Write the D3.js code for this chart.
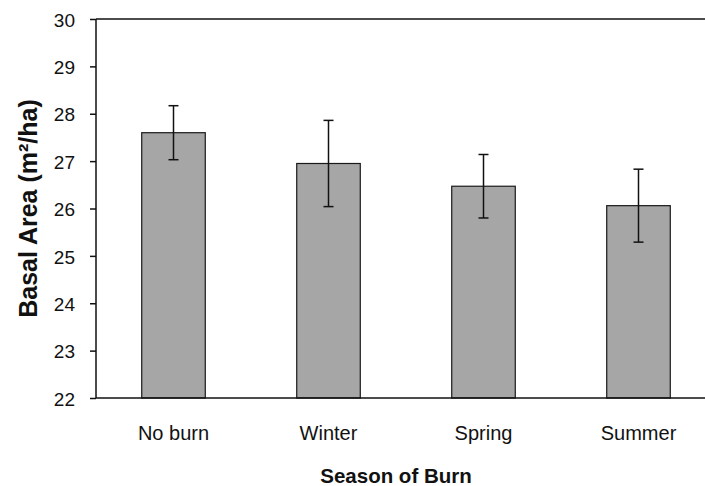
<!DOCTYPE html>
<html>
<head>
<meta charset="utf-8">
<script src="https://cdn.jsdelivr.net/npm/d3@7"></script>
<style>
  body { margin: 0; background: #fff; }
  svg { display: block; font-family: Arial, "Liberation Sans", sans-serif; }
</style>
</head>
<body>
<script>
// chart data
var seasons = ["No burn", "Winter", "Spring", "Summer"];
var basalArea = [27.6, 26.95, 26.47, 26.06];
var stdErr = [0.57, 0.91, 0.67, 0.77];
var yTicks = [22, 23, 24, 25, 26, 27, 28, 29, 30];

window.onload = () => {
  var width = 705, height = 486;
  var margin = {top: 19, left: 96, bottom: 88};
  var plotW = 620; // plot runs past the right edge of the picture

  var svg = d3.select("body").append("svg")
    .attr("width", width)
    .attr("height", height);

  var x = d3.scaleBand()
    .domain(seasons)
    .range([margin.left, margin.left + plotW])
    .paddingInner(0.59)
    .paddingOuter(0.295);

  var y = d3.scaleLinear()
    .domain([22, 30])
    .range([height - margin.bottom, margin.top]);

  var rows = seasons.map(function(s, i) {
    return {season: s, value: basalArea[i], se: stdErr[i]};
  });

  // top border of plot area
  svg.append("line")
    .attr("x1", margin.left).attr("x2", margin.left + plotW)
    .attr("y1", y(30)).attr("y2", y(30))
    .attr("stroke", "#111").attr("stroke-width", 1.5);

  // bars
  svg.selectAll("rect.bar")
    .data(rows)
    .enter().append("rect")
    .attr("class", "bar")
    .attr("x", function(d) { return x(d.season); })
    .attr("width", x.bandwidth())
    .attr("y", function(d) { return y(d.value); })
    .attr("height", function(d) { return y(22) - y(d.value); })
    .attr("fill", "#a6a6a6")
    .attr("stroke", "#1a1a1a")
    .attr("stroke-width", 1.2);

  // error bars
  var eb = svg.selectAll("g.err")
    .data(rows)
    .enter().append("g")
    .attr("class", "err")
    .attr("stroke", "#111")
    .attr("stroke-width", 1.5);
  var cx = function(d) { return x(d.season) + x.bandwidth() / 2; };
  eb.append("line")
    .attr("x1", cx).attr("x2", cx)
    .attr("y1", function(d) { return y(d.value + d.se); })
    .attr("y2", function(d) { return y(d.value - d.se); });
  eb.append("line")
    .attr("x1", function(d) { return cx(d) - 5; })
    .attr("x2", function(d) { return cx(d) + 5; })
    .attr("y1", function(d) { return y(d.value + d.se); })
    .attr("y2", function(d) { return y(d.value + d.se); });
  eb.append("line")
    .attr("x1", function(d) { return cx(d) - 5; })
    .attr("x2", function(d) { return cx(d) + 5; })
    .attr("y1", function(d) { return y(d.value - d.se); })
    .attr("y2", function(d) { return y(d.value - d.se); });

  // y axis
  var yAxis = svg.append("g")
    .attr("transform", "translate(" + margin.left + ",0)")
    .call(d3.axisLeft(y).tickValues(yTicks).tickSize(6).tickPadding(15).tickFormat(d3.format("d")));
  yAxis.selectAll("path, line").attr("stroke", "#111").attr("stroke-width", 1.5);
  yAxis.select(".domain").attr("d", "M0," + y(30) + "V" + y(22));
  yAxis.selectAll("text")
    .attr("font-size", 19)
    .attr("dy", "0.38em")
    .attr("font-family", "Arial, 'Liberation Sans', sans-serif")
    .attr("fill", "#111");

  // x axis
  var xAxis = svg.append("g")
    .attr("transform", "translate(0," + y(22) + ")")
    .call(d3.axisBottom(x).tickSize(0).tickPadding(28));
  xAxis.select(".domain").attr("stroke", "#111").attr("stroke-width", 1.5)
    .attr("d", "M" + margin.left + ",0H" + (margin.left + plotW));
  xAxis.selectAll("text")
    .attr("font-size", 20)
    .attr("font-family", "Arial, 'Liberation Sans', sans-serif")
    .attr("fill", "#111");

  // axis titles
  svg.append("text")
    .attr("x", 396).attr("y", 483)
    .attr("text-anchor", "middle")
    .attr("font-size", 20.5)
    .attr("font-weight", "bold")
    .attr("fill", "#111")
    .text("Season of Burn");

  svg.append("text")
    .attr("transform", "translate(37," + ((y(22) + y(30)) / 2) + ") rotate(-90)")
    .attr("text-anchor", "middle")
    .attr("font-size", 25)
    .attr("font-weight", "bold")
    .attr("fill", "#111")
    .text("Basal Area (m²/ha)");
};
</script>
</body>
</html>
